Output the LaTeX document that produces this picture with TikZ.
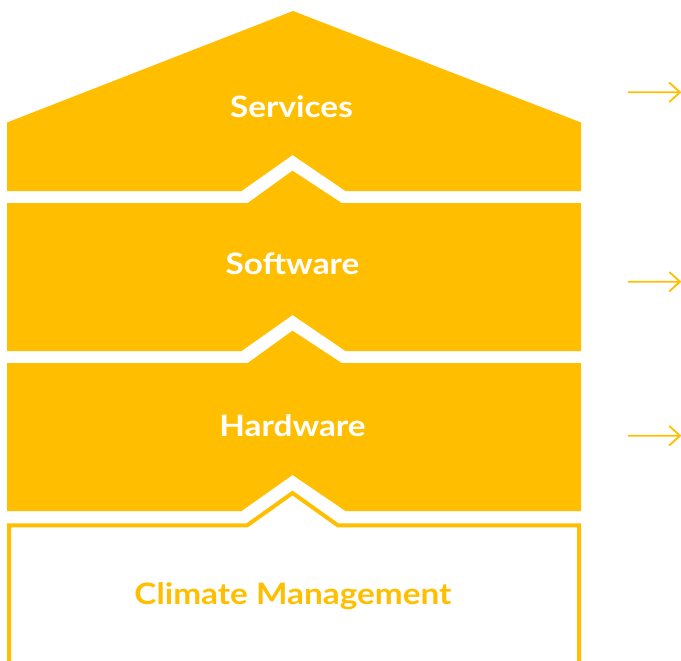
\documentclass[tikz,border=0pt]{standalone}
\usepackage{fontspec}
\setmainfont{Lato}
\newfontfamily\lblfont{Lato Bold}[FakeStretch=1.13]
\definecolor{amber}{HTML}{FFBF00}
\tikzset{
  layer/.style={fill=amber, draw=none},
  outline/.style={draw=amber, line width=4pt, line join=miter},
  lbl/.style={anchor=base, font=\lblfont\fontsize{29.5}{32}\selectfont, inner sep=0pt},
  pointer/.style={draw=amber, line width=1.8pt, line join=round, line cap=round}
}
\begin{document}
\begin{tikzpicture}[x=1pt,y=-1pt]
\useasboundingbox (0,0) rectangle (681,661);
% Services
\path[layer] (7,191) -- (7,122.5) -- (293,11) -- (581,122.5) -- (581,191) -- (345.5,191) -- (292.5,155) -- (241.5,191) -- cycle;
% Software
\path[layer] (7,203) -- (247.7,203) -- (292.5,170.7) -- (341.7,203) -- (581,203) -- (581,351) -- (345.5,351) -- (292.5,315) -- (241.5,351) -- (7,351) -- cycle;
% Hardware
\path[layer] (7,363) -- (247.7,363) -- (292.5,330.7) -- (341.7,363) -- (581,363) -- (581,511) -- (345.5,511) -- (292.5,475) -- (241.5,511) -- (7,511) -- cycle;
% Climate management outline
\begin{scope}
\clip (0,480) rectangle (681,661);
\path[outline] (9,680) -- (9,525.3) -- (247.2,525.3) -- (292.5,493) -- (337.8,525.3) -- (579,525.3) -- (579,680);
\end{scope}
% labels
\node[lbl, text=white] (serv) at (291.5,117.3) {Services};
\node[lbl, text=white] (soft) at (292.5,274.5) {Software};
\node[lbl, text=white] (hard) at (292.5,436.3) {Hardware};
\node[lbl, text=amber] (clim) at (293,604.3) {Climate Management};
% arrows
\coordinate (a1s) at (628.5,92.3); \coordinate (a1e) at (680,92.3);
\coordinate (a2s) at (628.5,281.7); \coordinate (a2e) at (680,281.7);
\coordinate (a3s) at (628.5,435.7); \coordinate (a3e) at (680,435.7);
\draw[pointer] (a1s) -- (a1e) (a1e) ++(-10.5,-9.5) -- (a1e) -- ++(-10.5,9.5);
\draw[pointer] (a2s) -- (a2e) (a2e) ++(-10.5,-9.5) -- (a2e) -- ++(-10.5,9.5);
\draw[pointer] (a3s) -- (a3e) (a3e) ++(-10.5,-9.5) -- (a3e) -- ++(-10.5,9.5);
\end{tikzpicture}
\end{document}
